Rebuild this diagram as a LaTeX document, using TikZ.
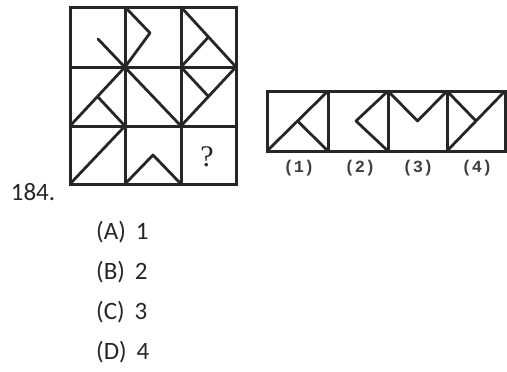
\documentclass[tikz,border=0pt]{standalone}
\usepackage{fontspec}
\setmainfont{Carlito}
\newfontfamily\labfont{Liberation Mono}
\newfontfamily\qmfont{Liberation Serif}
\usetikzlibrary{positioning}

\begin{document}
\begin{tikzpicture}[
  x=1pt, y=-1pt,
  ln/.style={line width=2.8pt,line cap=round,line join=round,draw=black!85},
  fr/.style={line width=3pt,line join=miter,draw=black!85},
  lab/.style={font=\labfont\fontsize{17}{17}\selectfont\bfseries,text=black!75,inner sep=0pt},
  ans/.style={font=\fontsize{25}{25}\selectfont,text=black!85,inner sep=0pt,anchor=west}]
\useasboundingbox (0,0) rectangle (507,372);
% question grid
\draw[fr] (70,7) rectangle (236,184);
\foreach \x in {125,181} \draw[fr] (\x,7) -- (\x,184);
\foreach \y in {67,126} \draw[fr] (70,\y) -- (236,\y);
\draw[ln] (98,39) -- (181,126);
\draw[ln] (125,67) -- (70,126); \draw[ln] (97.5,96.5) -- (125,126);
\draw[ln] (125,126) -- (70,184);
\draw[ln] (126,8) -- (150,33) -- (125,67);
\draw[ln] (181,7) -- (236,67); \draw[ln] (208.5,37) -- (181,67);
\draw[ln] (181,126) -- (236,67); \draw[ln] (181,67) -- (208.5,96.5);
\draw[ln] (125,184) -- (153,155) -- (181,184);
\node[font=\qmfont\fontsize{30}{30}\selectfont,text=black!85] (qm) at (207,157) {?};
% answer figures
\draw[fr] (267,91) rectangle (505,151);
\foreach \x in {328,388,447} \draw[fr] (\x,91) -- (\x,151);
\draw[ln] (267,151) -- (328,91); \draw[ln] (297.5,121) -- (328,151);
\draw[ln] (388,91) -- (356,121) -- (388,151);
\draw[ln] (388,91) -- (417.5,121) -- (447,91);
\draw[ln] (447,151) -- (505,91); \draw[ln] (447,91) -- (476,121);
\node[lab] (l1) at (299,168) {(1)};
\node[lab] (l2) at (360,168) {(2)};
\node[lab] (l3) at (418,168) {(3)};
\node[lab] (l4) at (477,168) {(4)};
% question number and choices
\node[ans,anchor=center] (qno) at (33,192) {184.};
\node[ans] (ca) at (96,232) {(A)\hspace{10pt}1};
\node[ans] (cb) at (96,272) {(B)\hspace{10pt}2};
\node[ans] (cc) at (96,312) {(C)\hspace{10pt}3};
\node[ans] (cd) at (96,352) {(D)\hspace{10pt}4};
\end{tikzpicture}
\end{document}
